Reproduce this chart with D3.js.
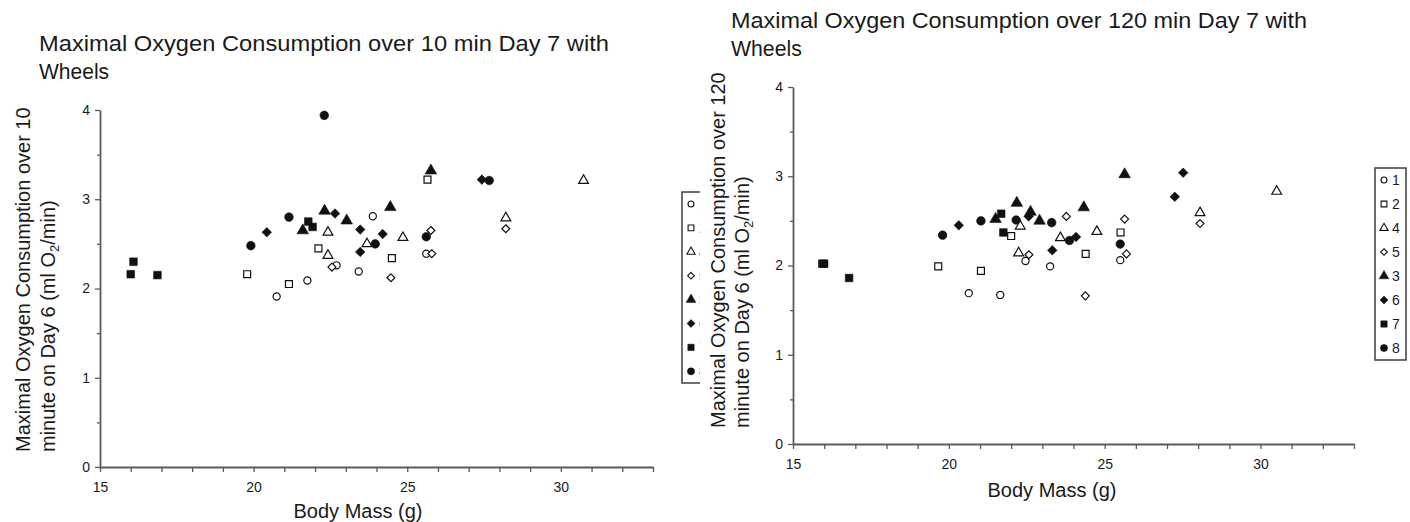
<!DOCTYPE html>
<html><head><meta charset="utf-8">
<script src="https://cdn.jsdelivr.net/npm/d3@7"></script>
<style>
body{margin:0;background:#fff;}
text{font-family:"Liberation Sans",Arial,sans-serif;fill:#1a1a1a;}
</style></head>
<body><svg id="c" width="1410" height="522"></svg>
<script>
// ---- data: [body mass (g), VO2max (ml O2/min)] ----
const groupLabels = ["1","2","4","5","3","6","7","8"];
const xTicks = [15,16,17,18,19,20,21,22,23,24,25,26,27,28,29,30,31,32,33];
const xTickLabels = [15,20,25,30];
const yTicks = [0,0.5,1,1.5,2,2.5,3,3.5,4];
const yTickLabels = [0,1,2,3,4];

// 10 min panel
const g1_10 = [[20.75,1.91],[21.75,2.09],[22.7,2.26],[23.42,2.19],[23.88,2.81],[25.62,2.39]];
const g2_10 = [[19.79,2.16],[21.15,2.05],[22.11,2.45],[24.50,2.34],[25.66,3.22]];
const g4_10 = [[22.42,2.63],[22.42,2.37],[23.69,2.50],[24.86,2.57],[28.21,2.79],[30.74,3.21]];
const g5_10 = [[22.55,2.24],[24.47,2.12],[25.77,2.65],[25.80,2.39],[28.21,2.67]];
const g3_10 = [[21.60,2.65],[22.31,2.87],[23.03,2.76],[24.45,2.91],[25.77,3.32]];
const g6_10 = [[20.43,2.63],[22.65,2.84],[23.47,2.66],[24.20,2.61],[23.47,2.41],[27.43,3.22]];
const g7_10 = [[16.0,2.16],[16.09,2.30],[16.87,2.15],[21.78,2.75],[21.92,2.69]];
const g8_10 = [[19.91,2.48],[21.15,2.80],[22.30,3.94],[23.96,2.50],[25.62,2.58],[27.67,3.21]];

// 120 min panel
const g1_120 = [[20.64,1.69],[21.65,1.67],[22.46,2.05],[23.25,1.99],[25.50,2.06]];
const g2_120 = [[19.66,1.99],[21.03,1.94],[22.0,2.33],[24.39,2.13],[25.51,2.37]];
const g4_120 = [[22.29,2.44],[22.24,2.14],[23.58,2.31],[24.75,2.38],[28.06,2.59],[30.52,2.83]];
const g5_120 = [[22.57,2.12],[23.77,2.55],[24.38,1.66],[25.64,2.52],[25.70,2.13],[28.06,2.47]];
const g3_120 = [[21.50,2.52],[22.18,2.70],[22.62,2.60],[22.91,2.50],[24.33,2.65],[25.64,3.02]];
const g6_120 = [[20.32,2.45],[22.56,2.55],[23.32,2.17],[24.08,2.32],[27.25,2.77],[27.52,3.04]];
const g7_120 = [[15.94,2.02],[16.0,2.02],[16.80,1.86],[21.68,2.58],[21.75,2.37]];
const g8_120 = [[19.80,2.34],[21.03,2.50],[22.16,2.51],[23.30,2.48],[23.87,2.28],[25.50,2.24]];

// ---- styles ----
const markerStyle = {
  "1":{type:d3.symbolCircle,size:40,fill:false},
  "2":{type:d3.symbolSquare,size:48,fill:false},
  "4":{type:d3.symbolTriangle,size:42,fill:false},
  "5":{type:d3.symbolDiamond2,size:40,fill:false},
  "3":{type:d3.symbolTriangle,size:58,fill:true},
  "6":{type:d3.symbolDiamond2,size:58,fill:true},
  "7":{type:d3.symbolSquare,size:58,fill:true},
  "8":{type:d3.symbolCircle,size:58,fill:true}
};

const svg = d3.select("#c");

function drawPanel(cfg){
  const g = svg.append("g");
  if(cfg.bg) g.append("rect").attr("x",cfg.bg[0]).attr("y",0).attr("width",cfg.bg[1]).attr("height",522).attr("fill","#fff");
  const x = d3.scaleLinear().domain([15,33]).range(cfg.xr);
  const y = d3.scaleLinear().domain([0,4]).range(cfg.yr);

  // title
  g.append("text").attr("x",cfg.tx).attr("y",cfg.ty).style("font-size","22px")
    .text(cfg.title1).attr("textLength",cfg.tlen).attr("lengthAdjust","spacingAndGlyphs");
  g.append("text").attr("x",cfg.tx).attr("y",cfg.ty+28).style("font-size","22px")
    .text("Wheels").attr("textLength",cfg.tlen*0.123).attr("lengthAdjust","spacingAndGlyphs");

  // y axis
  const ya = g.append("g").attr("transform",`translate(${cfg.xr[0]},0)`)
    .call(d3.axisLeft(y).tickValues(yTicks).tickSize(5).tickSizeOuter(0).tickPadding(5)
      .tickFormat(d=>yTickLabels.includes(d)?d3.format("d")(d):""));
  ya.selectAll(".tick line").attr("x2",d=>Number.isInteger(d)?-5:-3);
  // x axis
  const xa = g.append("g").attr("transform",`translate(0,${cfg.yr[0]})`)
    .call(d3.axisBottom(x).tickValues(xTicks).tickSize(5).tickSizeOuter(0).tickPadding(10)
      .tickFormat(d=>xTickLabels.includes(d)?d3.format("d")(d):""));
  [ya,xa].forEach(a=>{
    a.select(".domain").attr("stroke","#5a5a5a").attr("stroke-width",1.8);
    a.selectAll(".tick line").attr("stroke","#5a5a5a").attr("stroke-width",1.3);
    a.selectAll(".tick text").style("font-size","14px").style("font-family","Liberation Sans, Arial, sans-serif").attr("fill","#1a1a1a");
  });

  // axis titles
  g.append("text").attr("x",cfg.xtx).attr("y",cfg.xty).attr("text-anchor","middle").style("font-size","20px").text("Body Mass (g)");
  const yt = g.append("g").attr("transform",`translate(${cfg.ytx},${cfg.yty}) rotate(-90)`);
  yt.append("text").attr("x",0).attr("y",0).style("font-size","20px").text(cfg.ytitle1);
  const l2 = yt.append("text").attr("x",0).attr("y",cfg.ylinegap).style("font-size","20px");
  l2.append("tspan").text("minute on Day 6 (ml O");
  l2.append("tspan").text("2").style("font-size","13px").attr("dy",4);
  l2.append("tspan").text("/min)").attr("dy",-4);

  // points
  cfg.series.forEach((data,i)=>{
    const st = markerStyle[groupLabels[i]];
    const sym = d3.symbol().type(st.type).size(st.size);
    g.append("g").selectAll("path").data(data).join("path")
      .attr("transform",d=>`translate(${x(d[0])},${y(d[1])})`)
      .attr("d",sym)
      .attr("fill",st.fill?"#111":"#fff")
      .attr("stroke","#111")
      .attr("stroke-width",st.fill?0.6:1.2);
  });

  // legend
  const lg = g.append("g");
  lg.append("rect").attr("x",cfg.lx).attr("y",cfg.ly).attr("width",cfg.lw).attr("height",cfg.lh)
    .attr("fill","#fff").attr("stroke","#4a4a4a").attr("stroke-width",1.6);
  groupLabels.forEach((lab,i)=>{
    const st = markerStyle[lab];
    const yy = cfg.ly+12+i*cfg.lstep;
    lg.append("path").attr("transform",`translate(${cfg.lx+9},${yy})`)
      .attr("d",d3.symbol().type(st.type).size(st.size*0.7)())
      .attr("fill",st.fill?"#111":"#fff").attr("stroke","#111").attr("stroke-width",st.fill?0.5:1.1);
    lg.append("text").attr("x",cfg.lx+17).attr("y",yy+5).style("font-size","14px").text(lab);
  });
}

drawPanel({
  xr:[100,653], yr:[467,110],
  tx:39, ty:51, tlen:570, title1:"Maximal Oxygen Consumption over 10 min Day 7 with",
  xtx:358, xty:518,
  ytx:30, yty:452, ylinegap:25, ytitle1:"Maximal Oxygen Consumption over 10",
  series:[g1_10,g2_10,g4_10,g5_10,g3_10,g6_10,g7_10,g8_10],
  lx:682, ly:192, lw:34, lh:191, lstep:23.9
});
drawPanel({
  bg:[700,710],
  xr:[793,1354], yr:[444,87],
  tx:731, ty:28, tlen:576, title1:"Maximal Oxygen Consumption over 120 min Day 7 with",
  xtx:1052, xty:497,
  ytx:725, yty:428, ylinegap:24, ytitle1:"Maximal Oxygen Consumption over 120",
  series:[g1_120,g2_120,g4_120,g5_120,g3_120,g6_120,g7_120,g8_120],
  lx:1375, ly:168, lw:31, lh:192, lstep:24
});
</script></body></html>
